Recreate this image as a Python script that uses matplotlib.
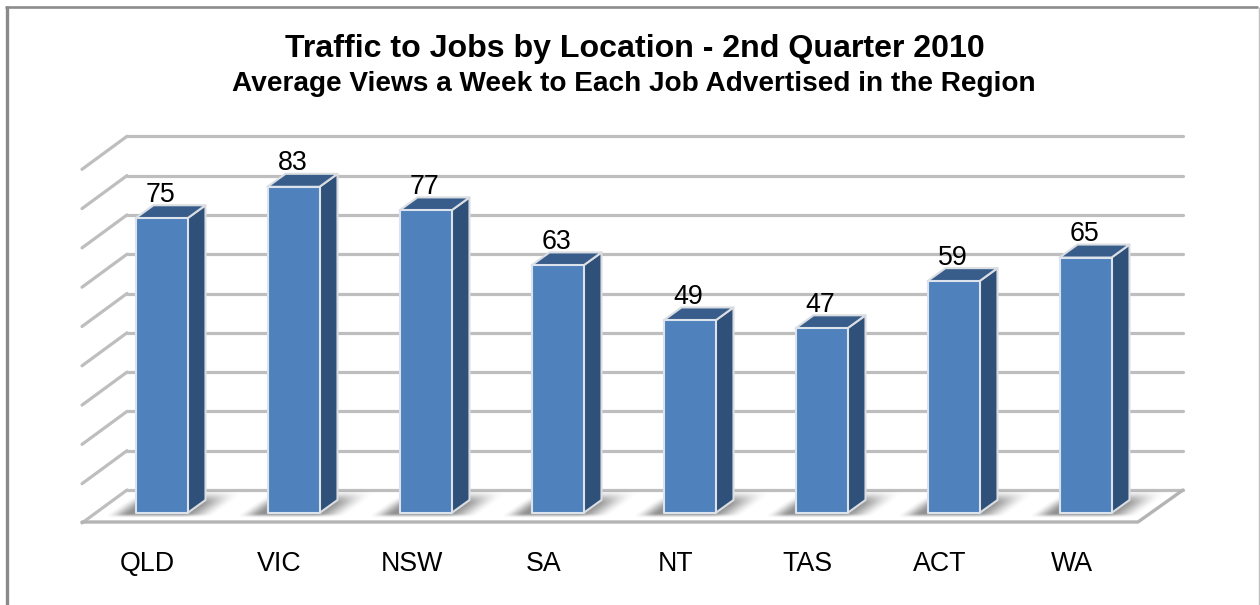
import matplotlib
matplotlib.use("Agg")
import matplotlib.pyplot as plt
import numpy as np
from matplotlib.patches import Polygon, Rectangle
from matplotlib.lines import Line2D

plt.rcParams['font.family'] = ['Liberation Sans', 'DejaVu Sans']

categories = ['QLD', 'VIC', 'NSW', 'SA', 'NT', 'TAS', 'ACT', 'WA']
values = [75, 83, 77, 63, 49, 47, 59, 65]
grid_levels = list(range(0, 100, 10))
title = 'Traffic to Jobs by Location - 2nd Quarter 2010'
subtitle = 'Average Views a Week to Each Job Advertised in the Region'

W, H = 1260, 605
PX_CAT, X0 = 132.0, 161.5      # pixels per category, pixel of first centre
PX_VAL, Y0 = 3.93, 513.0       # pixels per unit, pixel of zero level

fig = plt.figure(figsize=(W / 100, H / 100), dpi=100, facecolor='white')
ax = fig.add_axes([0, 0, 1, 1])
xlim = (-X0 / PX_CAT, (W - X0) / PX_CAT)
ylim = ((Y0 - H) / PX_VAL, Y0 / PX_VAL)


def dx(px):
    return px / PX_CAT


def dy(px):
    return px / PX_VAL


def sstep(t):
    t = np.clip(t, 0, 1)
    return t * t * (3 - 2 * t)


half = dx(26)
depth_x, depth_y = dx(18), dy(13)
GRID = '#bebebe'
GRID_W = 2.3

# frame
fig.add_artist(Line2D([6.5 / W, 6.5 / W], [0, 1 - 6 / H], color='#8a8a8a', lw=2.4,
                      solid_capstyle='butt'))
fig.add_artist(Line2D([5 / W, 1258 / W], [1 - 7 / H, 1 - 7 / H], color='#8c8c8c', lw=1.9,
                      solid_capstyle='butt'))
fig.add_artist(Line2D([1259.3 / W, 1259.3 / W], [0, 1 - 7 / H], color='#bdbdbd', lw=1.0,
                      solid_capstyle='butt'))

# back wall grid + left wall diagonals
left_back, right_back = dx(127 - X0), dx(1183 - X0)
left_front = dx(82 - X0)
right_front = dx(1138 - X0)
wall_dx, wall_dy = dx(-45), dy(-33)
back_offset = dy(23)
for lv in grid_levels:
    yb = lv + back_offset
    ax.plot([left_back, right_back], [yb, yb], color=GRID, lw=GRID_W,
            solid_capstyle='round', zorder=1)
    ax.plot([left_back, left_back + wall_dx], [yb, yb + wall_dy], color=GRID,
            lw=GRID_W, solid_capstyle='round', zorder=1)
# floor front and right edges
floor_front = back_offset + dy(-32)
ax.plot([left_front, right_front, right_back],
        [floor_front, floor_front, back_offset], color='#b4b4b4', lw=2.4,
        solid_capstyle='round', solid_joinstyle='round', zorder=1)

EDGE = '#dadde2'
for i, (cat, v) in enumerate(zip(categories, values)):
    # soft floor shadow, sheared towards the back of the floor
    sx = np.arange(-36, 116) + 0.5
    sy = np.arange(-10, 32) + 0.5
    gx, gy = np.meshgrid(sx, sy)
    u = gx - 1.4 * gy
    alpha = (sstep((u + 28) / 24) * sstep((82 - u) / 34)
             * sstep((gy + 5) / 5) * sstep((24 - gy) / 16)) * 0.7
    rgba = np.zeros(alpha.shape + (4,))
    rgba[..., :3] = 0.38
    rgba[..., 3] = alpha
    ax.imshow(rgba, origin='lower', interpolation='bilinear', aspect='auto', zorder=2,
              extent=(i - half + dx(-36), i - half + dx(116), dy(-10), dy(32)))
    # side face
    ax.add_patch(Polygon([(i + half, 0), (i + half + depth_x, depth_y),
                          (i + half + depth_x, v + depth_y), (i + half, v)],
                         closed=True, fc='#2f5179', ec=EDGE, lw=1.5, zorder=3,
                         joinstyle='round'))
    # top face
    ax.add_patch(Polygon([(i - half, v), (i + half, v),
                          (i + half + depth_x, v + depth_y), (i - half + depth_x, v + depth_y)],
                         closed=True, fc='#385d8a', ec=EDGE, lw=1.5, zorder=3,
                         joinstyle='round'))
    # front face
    ax.add_patch(Rectangle((i - half, 0), 2 * half, v, fc='#4f81bd', ec='#dde3ec',
                           lw=1.5, zorder=4, joinstyle='round'))
    # value label
    ax.text(i - dx(1), v + dy(16.5), str(v), ha='center', va='baseline', fontsize=19.3,
            color='black', zorder=5)
    # category label
    ax.text(i - dx(14), dy(-58), cat, ha='center', va='baseline',
            fontsize=19.3, color='black', zorder=5)

ax.set_xlim(*xlim)
ax.set_ylim(*ylim)
ax.axis('off')

fig.text(634.5 / W, 1 - 49.5 / H, title, ha='center', va='center', fontsize=23.1,
         fontweight='bold', color='black')
fig.text(633.5 / W, 1 - 84 / H, subtitle, ha='center', va='center', fontsize=20.2,
         fontweight='bold', color='black')

fig.savefig('out.png', dpi=100, facecolor='white')
